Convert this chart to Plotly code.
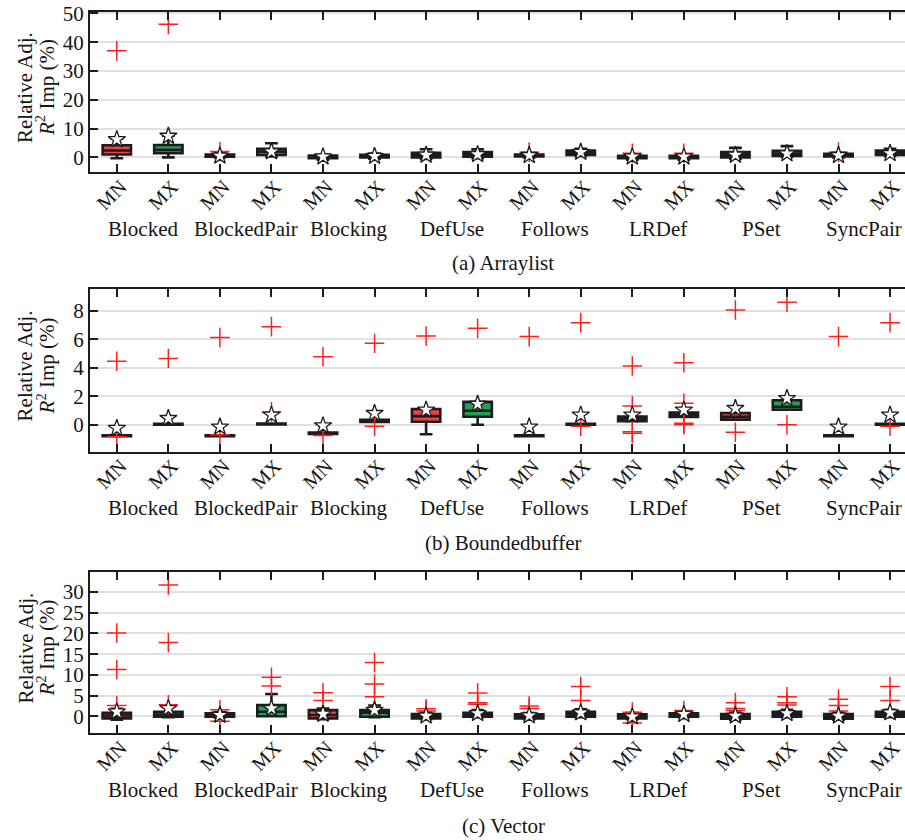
import plotly.graph_objects as go

categories = ["Blocked", "BlockedPair", "Blocking", "DefUse", "Follows", "LRDef", "PSet", "SyncPair"]
variants = ["MN", "MX"]
captions = ["(a) Arraylist", "(b) Boundedbuffer", "(c) Vector"]

# Panel (a) Arraylist
A_q1 = [1.0, 1.4, 0.2, 0.8, -0.3, 0.0, 0.0, 0.2, 0.3, 0.8, -0.3, -0.3, 0.0, 0.5, 0.3, 0.8]
A_med = [2.4, 2.6, 0.6, 2.0, 0.2, 0.4, 0.8, 1.0, 0.7, 1.7, 0.1, 0.1, 0.9, 1.3, 0.8, 1.5]
A_q3 = [4.2, 4.3, 1.0, 3.0, 0.6, 0.9, 1.6, 1.8, 1.0, 2.4, 0.5, 0.5, 1.8, 2.3, 1.2, 2.4]
A_lo = [-0.3, 0.0, 0.0, 0.3, -0.8, -0.5, -0.6, -0.3, 0.0, 0.5, -0.8, -0.8, -0.5, 0.2, 0.0, 0.5]
A_hi = [6.5, 7.5, 1.5, 4.9, 1.0, 1.3, 2.8, 2.8, 1.5, 3.0, 0.9, 0.9, 3.3, 3.9, 1.6, 3.0]
A_mean = [6.2, 7.4, 0.5, 2.0, 0.2, 0.4, 0.8, 1.0, 0.7, 1.8, 0.2, 0.2, 0.8, 1.3, 0.7, 1.4]
A_out = [[37.0], [46.2], [2.0], [], [], [], [], [], [1.8], [], [1.4], [1.4], [], [], [1.8], []]

# Panel (b) Boundedbuffer
B_q1 = [-0.80, 0.00, -0.80, 0.02, -0.65, 0.20, 0.21, 0.56, -0.80, 0.00, 0.25, 0.55, 0.35, 1.05, -0.80, 0.00]
B_med = [-0.77, 0.03, -0.77, 0.05, -0.60, 0.28, 0.60, 0.98, -0.77, 0.03, 0.40, 0.70, 0.55, 1.26, -0.77, 0.03]
B_q3 = [-0.74, 0.06, -0.74, 0.08, -0.55, 0.35, 1.10, 1.60, -0.74, 0.06, 0.58, 0.85, 0.82, 1.72, -0.74, 0.06]
B_lo = [-0.80, 0.00, -0.80, 0.02, -0.65, 0.20, -0.67, 0.00, -0.80, 0.00, 0.25, 0.55, 0.35, 1.05, -0.80, 0.00]
B_hi = [-0.74, 0.06, -0.74, 0.08, -0.55, 0.35, 1.10, 1.60, -0.74, 0.06, 0.58, 0.85, 0.82, 1.72, -0.74, 0.06]
B_mean = [-0.25, 0.45, -0.15, 0.68, -0.07, 0.80, 1.03, 1.45, -0.15, 0.68, 0.68, 1.03, 1.15, 1.85, -0.15, 0.68]
B_out = [[4.45, -0.85], [4.65], [6.12, -0.7], [6.88, 0.9], [4.77, -0.75], [5.72, -0.1], [6.22], [6.76],
         [6.18], [7.16, -0.1], [4.12, 1.31, -0.5, -0.6], [4.35, 1.5, 0.1, 0.0], [8.05, -0.53], [8.59, 0.0],
         [6.18], [7.16, -0.1]]

# Panel (c) Vector
C_q1 = [-0.5, -0.1, -0.1, 0.0, -0.5, -0.1, -0.5, -0.1, -0.5, -0.1, -0.5, -0.1, -0.6, -0.1, -0.6, -0.1]
C_med = [0.2, 0.4, 0.3, 1.1, 0.3, 0.9, 0.0, 0.4, 0.0, 0.5, 0.0, 0.3, 0.0, 0.5, 0.0, 0.5]
C_q3 = [0.87, 1.1, 0.7, 2.7, 1.5, 1.5, 0.55, 0.87, 0.5, 1.1, 0.5, 0.7, 0.55, 1.1, 0.55, 1.1]
C_lo = [-0.8, -0.2, -0.3, 0.0, -0.7, -0.2, -0.7, -0.2, -0.7, -0.2, -0.7, -0.2, -0.8, -0.2, -0.8, -0.2]
C_hi = [1.8, 2.4, 1.0, 5.4, 1.9, 2.6, 0.9, 1.5, 0.8, 1.7, 0.8, 1.0, 0.9, 1.6, 0.9, 1.6]
C_mean = [1.1, 1.9, 0.3, 1.9, 0.55, 1.5, 0.1, 0.7, 0.15, 0.87, -0.1, 0.5, 0.1, 0.7, 0.1, 0.87]
C_out = [[20.1, 11.3, 2.6], [31.7, 17.8, 2.8], [1.6, -1.2], [9.4, 7.3], [5.7, 3.8], [13.0, 7.8, 4.7],
         [1.8, 1.3], [5.6, 3.3, 2.9], [2.5, 1.9], [7.2, 3.8], [1.0, -1.6], [1.4], [3.3, 1.9, 1.4],
         [4.7, 3.3, 2.7], [4.1, 2.6, 1.3], [7.2, 3.8]]

panels = [
    (A_q1, A_med, A_q3, A_lo, A_hi, A_mean, A_out),
    (B_q1, B_med, B_q3, B_lo, B_hi, B_mean, B_out),
    (C_q1, C_med, C_q3, C_lo, C_hi, C_mean, C_out),
]
y_ranges = [[-5.2, 50.6], [-1.88, 9.5], [-4.1, 34.9]]
y_ticks = [[0, 10, 20, 30, 40, 50], [0, 2, 4, 6, 8], [0, 5, 10, 15, 20, 25, 30]]

W, H = 905, 840
left_px = 90
spacing_px = 51.55
panel_px = [(11.7, 172.3), (289.3, 451.5), (571.7, 733.3)]
label_px = [229, 508, 790]
caption_px = [263, 543, 826]

FONT = "Liberation Serif"
TXT = "#151515"
RED = "#ec4145"
GREEN = "#23a052"
LINE = "#1c1c1c"

positions = list(range(1, 2 * len(categories) + 1))
ticktext = [v for _ in categories for v in variants]

fig = go.Figure()
xr0 = 1 - (116.8 - left_px) / spacing_px
xr1 = xr0 + (W - left_px) / spacing_px

annotations = []
for p, (q1, med, q3, lo, hi, mean, out) in enumerate(panels):
    xa = "x" if p == 0 else f"x{p+1}"
    ya = "y" if p == 0 else f"y{p+1}"
    for k, col in enumerate([RED, GREEN]):
        idx = list(range(k, len(positions), 2))
        fig.add_trace(go.Box(
            x=[positions[i] for i in idx],
            q1=[q1[i] for i in idx], median=[med[i] for i in idx], q3=[q3[i] for i in idx],
            lowerfence=[lo[i] for i in idx], upperfence=[hi[i] for i in idx],
            width=0.55, whiskerwidth=0.45, fillcolor=col,
            line=dict(color=LINE, width=2.6), boxpoints=False,
            xaxis=xa, yaxis=ya, showlegend=False, hoverinfo="skip",
        ))
    ox, oy = [], []
    for i, vals in enumerate(out):
        for v in vals:
            ox.append(positions[i]); oy.append(v)
    fig.add_trace(go.Scatter(
        x=ox, y=oy, mode="markers", xaxis=xa, yaxis=ya, showlegend=False,
        marker=dict(symbol="cross-thin", size=14, line=dict(color="#ff1f1f", width=1.5)),
    ))
    fig.add_trace(go.Scatter(
        x=positions, y=mean, mode="markers", xaxis=xa, yaxis=ya, showlegend=False,
        marker=dict(symbol="star", size=13, color="white", line=dict(color=LINE, width=1.3)),
    ))

    top, bot = panel_px[p]
    dom = [1 - bot / H, 1 - top / H]
    axis_common = dict(showline=True, linecolor=LINE, linewidth=2, ticks="inside", ticklen=8,
                       tickwidth=1.8, tickcolor=LINE, zeroline=False, automargin=False)
    fig.layout[("xaxis" if p == 0 else f"xaxis{p+1}")] = dict(
        domain=[left_px / W, 1.0], range=[xr0, xr1], anchor=ya,
        tickmode="array", tickvals=positions, ticktext=ticktext, tickangle=-45,
        ticklabelstandoff=-7, ticklabelshift=4, ticklabeloverflow="allow",
        tickfont=dict(family=FONT, size=20, color=TXT),
        mirror="ticks", showgrid=False, **axis_common)
    fig.layout[("yaxis" if p == 0 else f"yaxis{p+1}")] = dict(
        domain=dom, range=y_ranges[p], anchor=xa, tickmode="array", tickvals=y_ticks[p],
        tickfont=dict(family=FONT, size=21, color=TXT),
        showgrid=True, gridcolor="#e1e1e1", gridwidth=1.6, mirror=False, **axis_common)

    for c, name in enumerate(categories):
        annotations.append(dict(text=name, x=2 * c + 1.5, xref=xa, y=1 - label_px[p] / H, yref="paper",
                                showarrow=False, xanchor="center", yanchor="middle",
                                font=dict(family=FONT, size=21, color=TXT)))
    annotations.append(dict(text=captions[p], x=8.5, xref=xa, y=1 - caption_px[p] / H, yref="paper",
                            showarrow=False, xanchor="center", yanchor="middle",
                            font=dict(family=FONT, size=21, color=TXT)))
    yc = 1 - ((top + bot) / 2 - 4) / H
    annotations.append(dict(text="Relative Adj.", x=25 / W, xref="paper", y=yc, yref="paper",
                            textangle=-90, showarrow=False, xanchor="center", yanchor="middle",
                            font=dict(family=FONT, size=21, color=TXT)))
    annotations.append(dict(text="<i>R</i><sup>2</sup> Imp (%)", x=46 / W, xref="paper", y=yc, yref="paper",
                            textangle=-90, showarrow=False, xanchor="center", yanchor="middle",
                            font=dict(family=FONT, size=21, color=TXT)))

fig.update_layout(
    width=W, height=H, margin=dict(l=0, r=0, t=0, b=0, autoexpand=False),
    paper_bgcolor="white", plot_bgcolor="white", boxmode="overlay",
    annotations=annotations, font=dict(family=FONT),
)

fig.write_html("out.html")
